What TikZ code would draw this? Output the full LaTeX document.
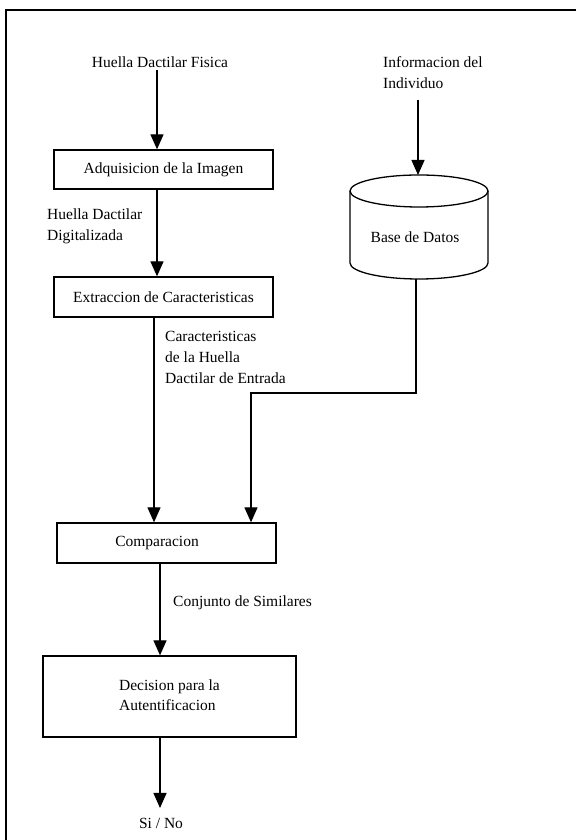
\documentclass[tikz,border=0pt]{standalone}
\usepackage{fontspec}
\setmainfont{Liberation Serif}
\usetikzlibrary{arrows.meta}
\begin{document}
\begin{tikzpicture}[x=1pt,y=1pt,
  every node/.style={font=\fontsize{15.5}{21}\selectfont, inner sep=0pt},
  box/.style={draw, line width=1.3pt, minimum height=40pt, minimum width=219pt},
  conn/.style={line width=1.3pt},
  arr/.style={conn, -{Triangle[width=13pt,length=15pt]}},
  lbl/.style={align=left, anchor=west}]
\useasboundingbox (0,0) rectangle (576,840);
% frame
\draw[line width=2.7pt] (576,830) -- (6,830) -- (6,0);

% left column
\node (in1) at (160,778) {Huella Dactilar Fisica};
\node[box, minimum height=39pt] (adq) at (163.5,670.5) {Adquisicion de la Imagen};
\node[box] (ext) at (163.5,543) {Extraccion de Caracteristicas};
\node[box] (comp) at (166.5,297) {Comparacion\hspace*{19pt}};
\node[box, minimum width=253pt, minimum height=81pt] (dec) at (169.5,143.5)
  {\raisebox{4pt}{\begin{tabular}{@{}l@{}}Decision para la\\[-0.5pt] Autentificacion\end{tabular}}};
\node (out) at (161,17) {Si / No};

% labels
\node[lbl] (l1) at (47,613.5) {Huella Dactilar\\Digitalizada};
\node[lbl] (l2) at (165,482.5) {Caracteristicas\\de la Huella\\Dactilar de Entrada};
\node[lbl] (l3) at (173,237) {Conjunto de Similares};

% right column
\node[lbl] (in2) at (383,767) {Informacion del\\Individuo};
\draw[line width=1.3pt] (350,649) -- (350,577)
  arc[start angle=180, end angle=360, x radius=69, y radius=16] -- (488,649);
\draw[line width=1.3pt] (419,649) ellipse[x radius=69, y radius=16];
\coordinate (dbtop) at (418,665);
\coordinate (dbbot) at (416,561);
\node (db) at (415,603) {Base de Datos};

% connectors
\coordinate (s1) at (157,770);
\draw[arr] (s1) -- (s1 |- adq.north);
\coordinate (c1) at (157,0);
\draw[arr] (c1 |- adq.south) -- (c1 |- ext.north);
\coordinate (c2) at (154,0);
\draw[arr] (c2 |- ext.south) -- (c2 |- comp.north);
\coordinate (s2) at (418,740);
\draw[arr] (s2) -- (dbtop);
\coordinate (bend) at (251,447);
\draw[arr] (dbbot) |- (bend) -- (bend |- comp.north);
\coordinate (c3) at (160,0);
\draw[arr] (c3 |- comp.south) -- (c3 |- dec.north);
\draw[arr] (c3 |- dec.south) -- (160,32);
\end{tikzpicture}
\end{document}
